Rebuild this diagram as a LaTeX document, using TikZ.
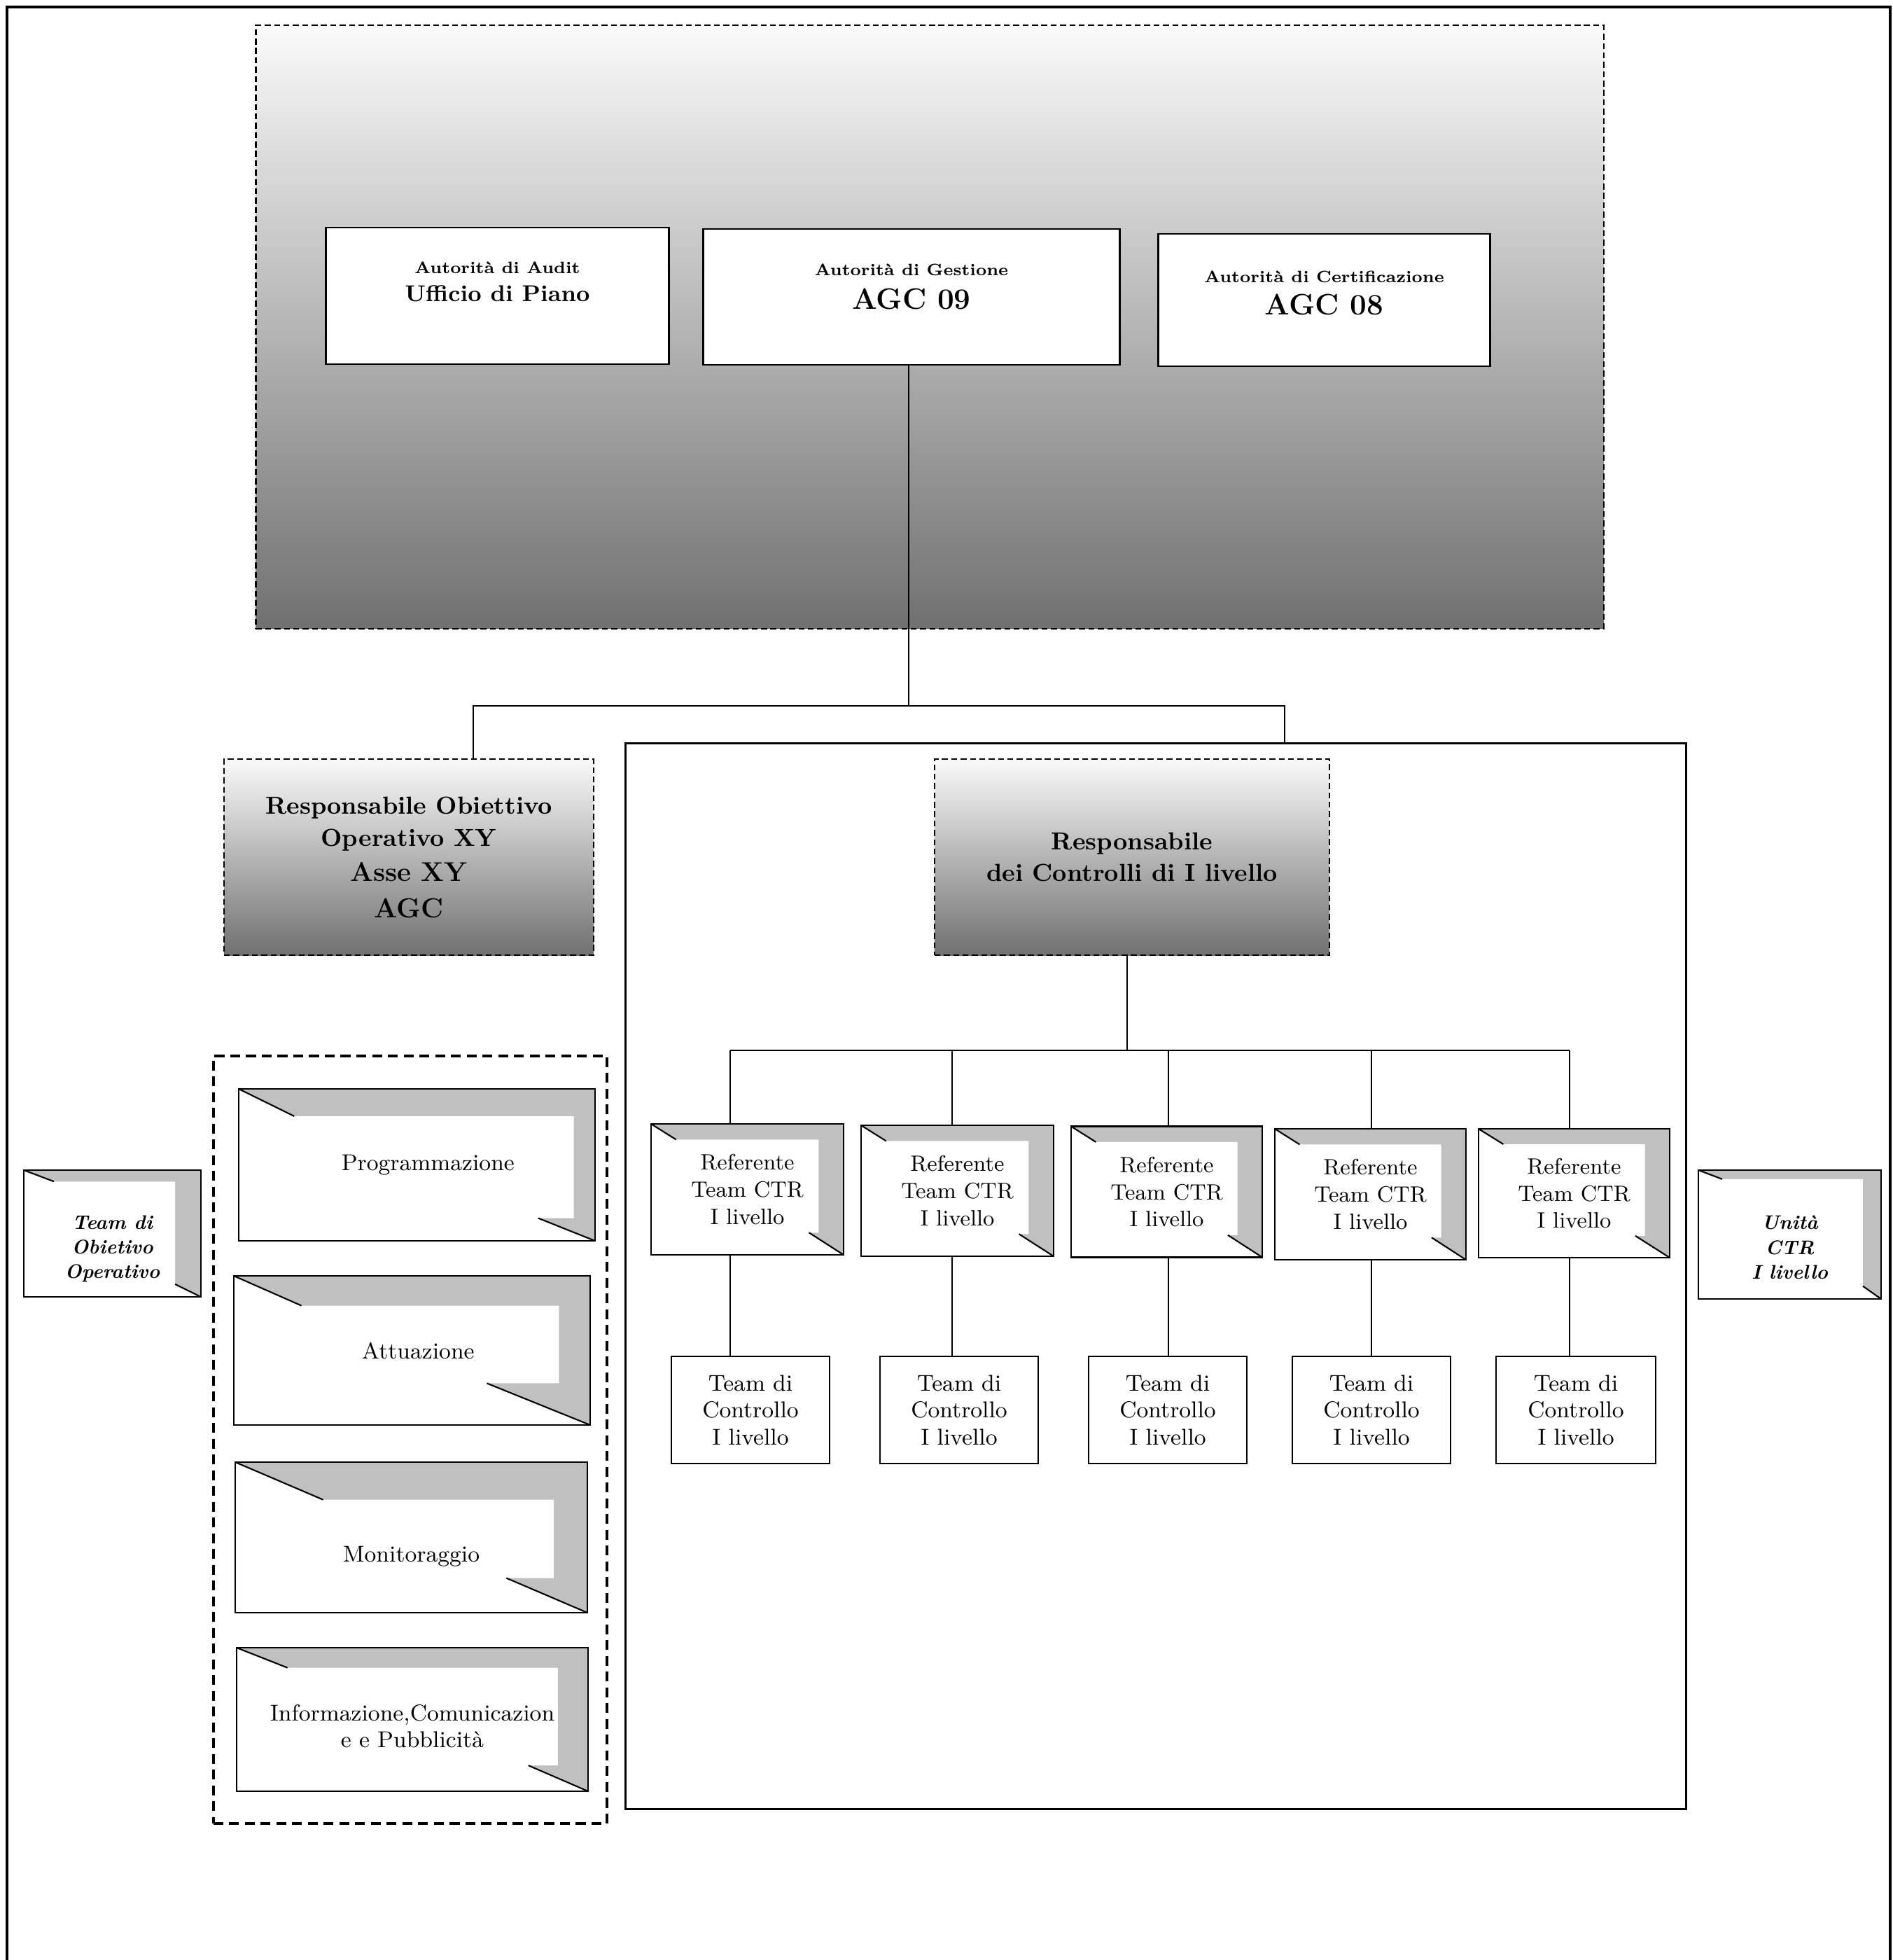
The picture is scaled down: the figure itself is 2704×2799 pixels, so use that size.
\documentclass[tikz,border=0pt]{standalone}
\usepackage{tikz}
\usetikzlibrary{calc,positioning}
\definecolor{foldgray}{HTML}{C0C0C0}
\tikzset{
    conn/.style={line width=0.6pt},
    plain/.style={rectangle, draw, fill=white, line width=0.8pt, align=center, inner sep=2pt},
    shadedbox/.style={rectangle, draw, dash pattern=on 2.4pt off 1.4pt, line width=0.6pt,
        top color=white!98!black, middle color=black!22, bottom color=black!56, align=center},
    folded/.style n args={5}{rectangle, draw, line width=0.7pt, align=center, inner sep=2pt,
        path picture={
            \fill[foldgray] (path picture bounding box.south west) rectangle (path picture bounding box.north east);
            \fill[white] let \p1=(path picture bounding box.south west), \p2=(path picture bounding box.north east),
                \n1={\x2-\x1}, \n2={\y2-\y1} in
                (\x1,\y2) -- ({\x1+#1*\n1},{\y2-#2*\n2}) -- ({\x2-#3*\n1},{\y2-#2*\n2})
                -- ({\x2-#3*\n1},{\y1+#4*\n2}) -- ({\x2-#5*\n1},{\y1+#4*\n2}) -- (\x2,\y1) -- (\x1,\y1) -- cycle;
            \draw[line width=0.6pt] let \p1=(path picture bounding box.south west), \p2=(path picture bounding box.north east),
                \n1={\x2-\x1}, \n2={\y2-\y1} in
                (\x1,\y2) -- ({\x1+#1*\n1},{\y2-#2*\n2})
                ({\x2-#5*\n1},{\y1+#4*\n2}) -- (\x2,\y1);
        }},
    phases/.style={rectangle, draw, line width=1.2pt, dash pattern=on 4pt off 2.4pt},
    txt/.style={font=\fontsize{9.3}{11}\selectfont},
    reftxt/.style={font=\fontsize{9}{11}\selectfont},
    itl/.style={font=\fontsize{8}{10}\selectfont\bfseries\itshape}
}

\begin{document}
\begin{tikzpicture}[x=0.01cm, y=-0.01cm]
    \useasboundingbox (0,0) rectangle (2704,2799);
    \draw[line width=1.1pt] (10,2830) -- (10,10) -- (2700,10) -- (2700,2830);

    % autorita
    \node[shadedbox, minimum width=19.24cm, minimum height=8.61cm] (top) at (1328,467) {};
    \node[plain, minimum width=4.89cm, minimum height=1.95cm, font=\bfseries\fontsize{9.3}{11.6}\selectfont] (audit) at (710.5,422.5)
        {{\fontsize{6.7}{8}\selectfont Autorità di Audit}\\ Ufficio di Piano\\ \mbox{}};
    \node[plain, minimum width=5.94cm, minimum height=1.94cm, font=\bfseries\fontsize{12}{13.6}\selectfont] (gest) at (1302,424)
        {{\fontsize{6.7}{8}\selectfont Autorità di Gestione}\\ AGC 09\\[-5pt] \mbox{}};
    \node[plain, minimum width=4.73cm, minimum height=1.89cm, font=\bfseries\fontsize{12}{13}\selectfont] (cert) at (1891.5,428.5)
        {{\fontsize{6.7}{8}\selectfont Autorità di Certificazione}\\ AGC 08\\[-7pt] \mbox{}};

    % responsabili
    \node[draw, line width=1pt, minimum width=15.14cm, minimum height=15.21cm] (ctrarea) at (1651,1822.5) {};
    \node[shadedbox, minimum width=5.28cm, minimum height=2.80cm, font=\bfseries\fontsize{10}{12.7}\selectfont] (respob) at (584,1224)
        {Responsabile Obiettivo\\[0.5pt] Operativo XY\\[1.5pt] {\fontsize{11}{13}\selectfont Asse XY}\\[2pt] {\fontsize{11.2}{13}\selectfont AGC}};
    \node[shadedbox, minimum width=5.64cm, minimum height=2.80cm, font=\bfseries\fontsize{10}{12.6}\selectfont] (respctr) at (1617,1224)
        {Responsabile\\ dei Controlli di I livello};

    \coordinate (jl) at (676,1008);
    \coordinate (jm) at (1298,1008);
    \coordinate (jr) at (1835,1008);
    \draw[conn] (jm |- gest.south) -- (jm);
    \draw[conn] (jl |- respob.north) -- (jl) -- (jr) -- (jr |- ctrarea.north);

    % referenti e team
    \node[folded={0.13}{0.12}{0.13}{0.17}{0.18}, reftxt, minimum width=2.75cm, minimum height=1.87cm] (ref1) at (1067.5,1698.5) {Referente\\ Team CTR\\ I livello};
    \node[folded={0.13}{0.12}{0.13}{0.17}{0.18}, reftxt, minimum width=2.75cm, minimum height=1.87cm] (ref2) at (1367.5,1700.5) {Referente\\ Team CTR\\ I livello};
    \node[folded={0.13}{0.12}{0.13}{0.17}{0.18}, reftxt, minimum width=2.73cm, minimum height=1.87cm] (ref3) at (1666.5,1702) {Referente\\ Team CTR\\ I livello};
    \node[folded={0.13}{0.12}{0.13}{0.17}{0.18}, reftxt, minimum width=2.73cm, minimum height=1.87cm] (ref4) at (1957.5,1705.5) {Referente\\ Team CTR\\ I livello};
    \node[folded={0.13}{0.12}{0.13}{0.17}{0.18}, reftxt, minimum width=2.73cm, minimum height=1.84cm] (ref5) at (2248.5,1704) {Referente\\ Team CTR\\ I livello};

    \node[plain, txt, minimum width=2.26cm, minimum height=1.53cm] (team1) at (1072,2013.5) {Team di\\ Controllo\\ I livello};
    \node[plain, txt, minimum width=2.26cm, minimum height=1.53cm] (team2) at (1370,2013.5) {Team di\\ Controllo\\ I livello};
    \node[plain, txt, minimum width=2.26cm, minimum height=1.53cm] (team3) at (1668,2013.5) {Team di\\ Controllo\\ I livello};
    \node[plain, txt, minimum width=2.26cm, minimum height=1.53cm] (team4) at (1959,2013.5) {Team di\\ Controllo\\ I livello};
    \node[plain, txt, minimum width=2.28cm, minimum height=1.53cm] (team5) at (2251,2013.5) {Team di\\ Controllo\\ I livello};

    \coordinate (jc) at (1610,1500);
    \coordinate (b1) at (1043,1500);
    \coordinate (b2) at (1360,1500);
    \coordinate (b3) at (1669,1500);
    \coordinate (b4) at (1959,1500);
    \coordinate (b5) at (2242,1500);
    \draw[conn] (jc |- respctr.south) -- (jc);
    \draw[conn] (b1) -- (b5);
    \draw[conn] (b1) -- (b1 |- ref1.north);
    \draw[conn] (b2) -- (b2 |- ref2.north);
    \draw[conn] (b3) -- (b3 |- ref3.north);
    \draw[conn] (b4) -- (b4 |- ref4.north);
    \draw[conn] (b5) -- (b5 |- ref5.north);
    \draw[conn] (b1 |- ref1.south) -- (b1 |- team1.north);
    \draw[conn] (b2 |- ref2.south) -- (b2 |- team2.north);
    \draw[conn] (b3 |- ref3.south) -- (b3 |- team3.north);
    \draw[conn] (b4 |- ref4.south) -- (b4 |- team4.north);
    \draw[conn] (b5 |- ref5.south) -- (b5 |- team5.north);

    % fasi
    \node[phases, minimum width=5.62cm, minimum height=10.96cm] (fasi) at (586,2056) {};
    \node[folded={0.156}{0.18}{0.06}{0.15}{0.16}, txt, minimum width=5.09cm, minimum height=2.17cm] (prog) at (595.5,1663.5) {\hspace*{9pt}Programmazione};
    \node[folded={0.19}{0.2}{0.088}{0.28}{0.29}, txt, minimum width=5.09cm, minimum height=2.13cm] (attu) at (588.5,1928.5) {\hspace*{5pt}Attuazione};
    \node[folded={0.25}{0.25}{0.096}{0.23}{0.23}, txt, minimum width=5.03cm, minimum height=2.15cm] (moni) at (587.5,2195.5) {\mbox{}\\[11pt]Monitoraggio};
    \node[folded={0.145}{0.14}{0.086}{0.18}{0.17}, txt, minimum width=5.02cm, minimum height=2.05cm] (info) at (589,2455.5) {\mbox{}\\[1pt]Informazione,Comunicazion\\ e e Pubblicità};

    % unita laterali
    \node[folded={0.17}{0.09}{0.146}{0.1}{0.146}, itl, minimum width=2.53cm, minimum height=1.81cm] (teamob) at (160.5,1761.5) {\mbox{}\\[8pt]Team di\\ Obietivo\\ Operativo};
    \node[folded={0.13}{0.07}{0.1}{0.1}{0.1}, itl, minimum width=2.61cm, minimum height=1.84cm] (unita) at (2556.5,1763) {\mbox{}\\[6pt]Unità\\ CTR\\ I livello};
\end{tikzpicture}
\end{document}
